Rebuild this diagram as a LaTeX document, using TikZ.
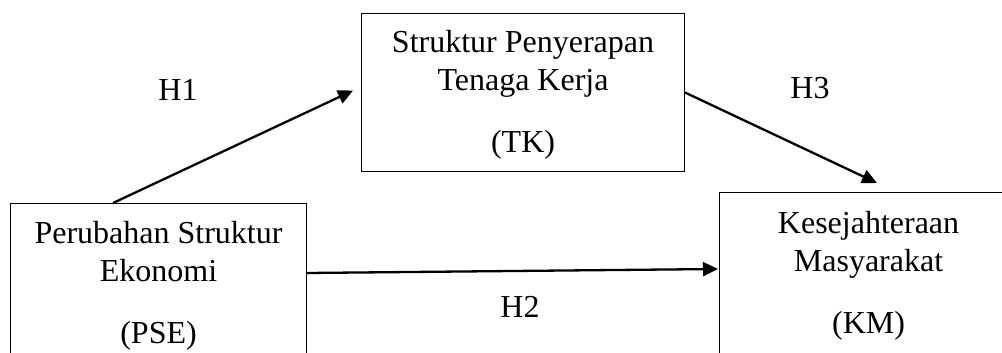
\documentclass[tikz,border=0pt]{standalone}
\usepackage{fontspec}
\setmainfont{Liberation Serif}
\usetikzlibrary{calc,arrows.meta}
\begin{document}
\begin{tikzpicture}[x=1pt,y=-1pt,
  varbox/.style={draw, line width=1.1pt, rectangle, inner sep=0pt},
  txtline/.style={anchor=base, inner sep=0pt, font=\fontsize{32}{38}\selectfont},
  hyp/.style={line width=2.3pt, -{Triangle[length=15pt,width=14pt]}},
  hlabel/.style={anchor=base, inner sep=0pt, font=\fontsize{32}{38}\selectfont}]
\useasboundingbox (0,0) rectangle (1002,353);
\clip (0,0) rectangle (1002,353);

% variable boxes
\node[varbox, minimum width=296pt, minimum height=220pt, anchor=north west] (pse) at (10,203) {};
\node[varbox, minimum width=323pt, minimum height=158pt, anchor=north west] (tk) at (361,13) {};
\node[varbox, minimum width=298pt, minimum height=220pt, anchor=north west] (km) at (719,192) {};

% box texts
\node[txtline] (pse1) at ($(pse.north)+(0,40)$) {Perubahan Struktur};
\node[txtline] (pse2) at ($(pse.north)+(0,78)$) {Ekonomi};
\node[txtline] (pse3) at ($(pse.north)+(0,140)$) {(PSE)};

\node[txtline] (tk1) at ($(tk.north)+(0,40)$) {Struktur Penyerapan};
\node[txtline] (tk2) at ($(tk.north)+(0,78)$) {Tenaga Kerja};
\node[txtline] (tk3) at ($(tk.north)+(0,139)$) {(TK)};

\node[txtline] (km1) at ($(km.north)+(0,41)$) {Kesejahteraan};
\node[txtline] (km2) at ($(km.north)+(0,79)$) {Masyarakat};
\node[txtline] (km3) at ($(km.north)+(0,141)$) {(KM)};

% hypothesis paths
\draw[hyp] ($(pse.north west)+(103,0)$) -- ($(tk.west)+(-8,-2)$);
\draw[hyp] (tk.east) -- ($(km.north west)+(158,-9)$);
\draw[hyp] ($(pse.north east)+(0,70)$) -- ($(km.north west)+(-1,77)$);

% hypothesis labels
\node[hlabel] (h1) at (178,101) {H1};
\node[hlabel] (h2) at (520,317) {H2};
\node[hlabel] (h3) at (810,99) {H3};
\end{tikzpicture}
\end{document}
